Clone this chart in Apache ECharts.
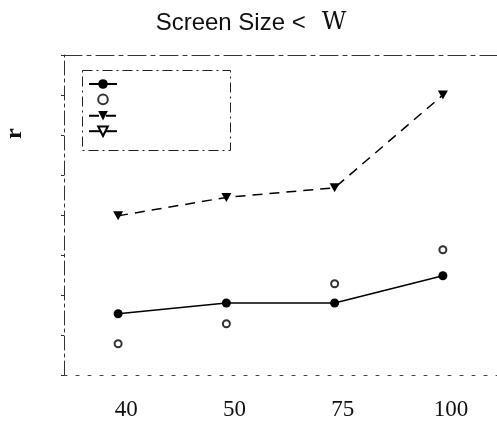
<!DOCTYPE html>
<html>
<head>
<meta charset="utf-8">
<script src="https://cdn.jsdelivr.net/npm/echarts@6/dist/echarts.min.js"></script>
<style>html,body{margin:0;padding:0;background:#fff}#c{width:497px;height:445px}</style>
</head>
<body>
<div id="c"></div>
<script>
var categories = ['40', '50', '75', '100'];
var seriesNames = ['s1', 's2', 's3', 's4'];
var s1Values = [1.53, 1.8, 1.8, 2.48];
var s2Values = [0.78, 1.28, 2.28, 3.13];
var s3Values = [3.98, 4.44, 4.68, 7.0];
var s4Values = [];
var yMin = 0, yMax = 8, yStep = 1;

var chart = echarts.init(document.getElementById('c'));
var downTri = 'path://M0,0 L10,0 L5,9 Z';
chart.setOption({
  animation: false,
  backgroundColor: '#fff',
  title: {
    text: '{a|Screen Size <}{g|}{b|W}',
    left: 246,
    textAlign: 'center',
    top: 6,
    textStyle: {
      fontWeight: 'normal',
      rich: {
        a: { fontFamily: 'Liberation Sans', fontSize: 24, fontWeight: 'normal', color: '#111' },
        g: { width: 16 },
        b: { fontFamily: 'DejaVu Serif', fontSize: 24, fontWeight: 'normal', color: '#111' }
      }
    }
  },
  graphic: [
    { type: 'rect', left: 80, top: 68, shape: { width: 148, height: 80 },
      style: { fill: 'none', stroke: '#222', lineWidth: 1, lineDash: [10, 4, 2, 4] } },
    { type: 'text', x: 3, y: 139, rotation: Math.PI / 2,
      style: { text: 'r', fontFamily: 'Liberation Serif', fontWeight: 'bold', fontSize: 24, fill: '#111' } }
  ],
  legend: {
    orient: 'vertical',
    left: 88,
    top: 78,
    itemWidth: 28,
    itemHeight: 12,
    itemGap: 4.6,
    padding: 0,
    formatter: function () { return ''; },
    data: seriesNames
  },
  grid: { left: 64, top: 55, width: 436, height: 320, containLabel: false },
  xAxis: [
    {
      type: 'category', data: categories, boundaryGap: true, position: 'bottom',
      axisLine: { lineStyle: { color: '#444', width: 1, type: [3, 9] } },
      axisTick: { show: false },
      axisLabel: { margin: 23, fontFamily: 'Liberation Serif', fontSize: 23, color: '#111', padding: [0, 0, 0, 16] }
    },
    {
      type: 'category', data: categories, boundaryGap: true, position: 'top',
      axisLine: { lineStyle: { color: '#333', width: 1, type: [18, 5, 4, 5] } },
      axisTick: { show: false }, axisLabel: { show: false }
    }
  ],
  yAxis: {
    type: 'value', min: yMin, max: yMax, interval: yStep,
    axisLine: { show: true, lineStyle: { color: '#333', width: 1, type: [14, 4, 3, 4] } },
    axisTick: { show: true, length: 3, lineStyle: { color: '#333' } },
    axisLabel: { show: false },
    splitLine: { show: false }
  },
  series: [
    { name: 's1', type: 'line', data: s1Values, symbol: 'circle', symbolSize: 9,
      itemStyle: { color: '#000' }, lineStyle: { color: '#000', width: 1.5 } },
    { name: 's2', type: 'line', data: s2Values, symbol: 'emptyCircle', symbolSize: 7,
      itemStyle: { color: '#333', borderColor: '#333', borderWidth: 0.8 },
      lineStyle: { width: 0, color: '#333' } },
    { name: 's3', type: 'line', data: s3Values, symbol: downTri, symbolSize: [10, 9],
      itemStyle: { color: '#000' }, lineStyle: { color: '#000', width: 1.5, type: [10, 7] } },
    { name: 's4', type: 'line', data: s4Values, symbol: downTri, symbolSize: [10, 9],
      itemStyle: { color: '#fff', borderColor: '#000', borderWidth: 1.5 },
      lineStyle: { color: '#000', width: 1.5 } }
  ]
});
</script>
</body>
</html>
